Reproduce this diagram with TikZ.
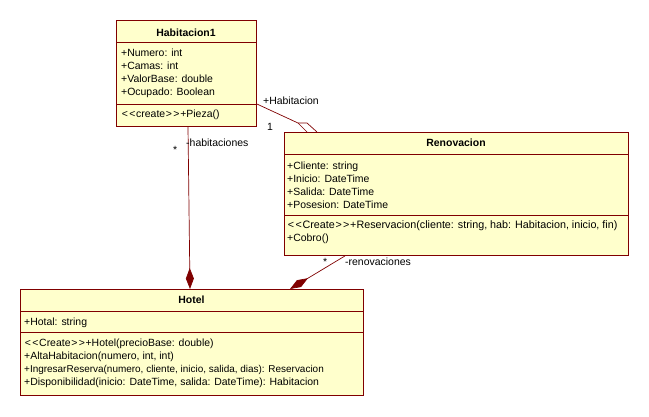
\documentclass[tikz,border=0pt]{standalone}
\usepackage{fontspec}
\setmainfont{Liberation Sans}
\usetikzlibrary{arrows.meta,calc}
\definecolor{umlfill}{RGB}{255,255,204}
\definecolor{umlline}{RGB}{128,0,0}
\newcommand{\umllt}{\kern0.7bp<\kern0.7bp}
\newcommand{\umlgt}{\kern0.7bp>\kern0.7bp}
\tikzset{
  classbox/.style={draw=umlline, fill=umlfill, line width=0.9bp, rectangle, inner sep=0pt, anchor=north west},
  sepline/.style={draw=umlline, line width=0.9bp},
  txt/.style={anchor=base west, inner sep=0pt, font=\fontsize{10.5}{12}\selectfont},
  ttl/.style={anchor=base, inner sep=0pt, font=\fontsize{10.5}{12}\selectfont\bfseries},
  lbl/.style={anchor=base west, inner sep=0pt, font=\fontsize{10.5}{12}\selectfont},
  conn/.style={draw=umlline, line width=0.7bp},
  comp/.style={conn, -{Diamond[length=21bp,width=8bp,fill=umlline]}},
}
\begin{document}
\begin{tikzpicture}[x=1bp,y=-1bp]
\useasboundingbox[fill=white] (0,0) rectangle (649,416);

% Habitacion1
\node[classbox, minimum width=140bp, minimum height=106bp] (hab) at (116,20) {};
\draw[sepline] (116,42) -- (256,42);
\draw[sepline] (116,104) -- (256,104);
\node[ttl] (habt) at (186,36) {Habitacion1};
\node[txt] (ha1) at (121,56) {+Numero: int};
\node[txt] (ha2) at (121,69) {+Camas: int};
\node[txt] (ha3) at (121,82) {+ValorBase: double};
\node[txt] (ha4) at (121,95) {+Ocupado: Boolean};
\node[txt] (hm1) at (121,117) {\umllt\umllt create\umlgt\umlgt+Pieza()};

% Renovacion
\node[classbox, minimum width=344bp, minimum height=123bp] (ren) at (284,132) {};
\draw[sepline] (284,154) -- (628,154);
\draw[sepline] (284,215) -- (628,215);
\node[ttl] (rent) at (456,146) {Renovacion};
\node[txt] (ra1) at (287,169) {+Cliente: string};
\node[txt] (ra2) at (287,182) {+Inicio: DateTime};
\node[txt] (ra3) at (287,195) {+Salida: DateTime};
\node[txt] (ra4) at (287,208) {+Posesion: DateTime};
\node[txt, font=\fontsize{10.8}{12}\selectfont] (rm1) at (287,228) {\umllt\umllt Create\umlgt\umlgt+Reservacion(cliente: string, hab: Habitacion, inicio, fin)};
\node[txt] (rm2) at (287,241) {+Cobro()};

% Hotel
\node[classbox, minimum width=343bp, minimum height=106bp] (hot) at (20,289) {};
\draw[sepline] (20,311) -- (363,311);
\draw[sepline] (20,332) -- (363,332);
\node[ttl] (hott) at (191.5,303) {Hotel};
\node[txt] (oa1) at (24,325) {+Hotal: string};
\node[txt] (om1) at (24,346) {\umllt\umllt Create\umlgt\umlgt+Hotel(precioBase: double)};
\node[txt] (om2) at (24,359) {+AltaHabitacion(numero, int, int)};
\node[txt, font=\fontsize{10}{12}\selectfont] (om3) at (24,372) {+IngresarReserva(numero, cliente, inicio, salida, dias): Reservacion};
\node[txt] (om4) at (24,385) {+Disponibilidad(inicio: DateTime, salida: DateTime): Habitacion};

% connector anchor points
\coordinate (c1a) at ($(hab.south west)+(72,0)$);
\coordinate (c1b) at ($(hot.north west)+(170,0)$);
\coordinate (c2a) at ($(ren.south west)+(61,0)$);
\coordinate (c2b) at ($(hot.north west)+(270,0)$);
\coordinate (c3a) at ($(hab.north east)+(0,84)$);
\coordinate (c3m) at (298,123);
\coordinate (c3b) at ($(ren.north west)+(23,0)$);
\coordinate (c3n) at (307,123);
\coordinate (c3c) at ($(ren.north west)+(33,0)$);

% Habitacion1 -- Hotel (composition)
\draw[comp] (c1a) -- (c1b);
\node[lbl] (l1) at (186,146) {-habitaciones};
\node[lbl] (s1) at (173,153) {*};

% Renovacion -- Hotel (composition)
\draw[comp] (c2a) -- (c2b);
\node[lbl] (s2) at (323,265) {*};
\node[lbl] (l2) at (345,265) {-renovaciones};

% Habitacion1 -- Renovacion
\draw[conn] (c3a) -- (c3m) -- (c3b);
\draw[conn] (c3m) -- (c3n) -- (c3c);
\node[lbl] (l3) at (263,104) {+Habitacion};
\node[lbl] (n3) at (267,130) {1};
\end{tikzpicture}
\end{document}
